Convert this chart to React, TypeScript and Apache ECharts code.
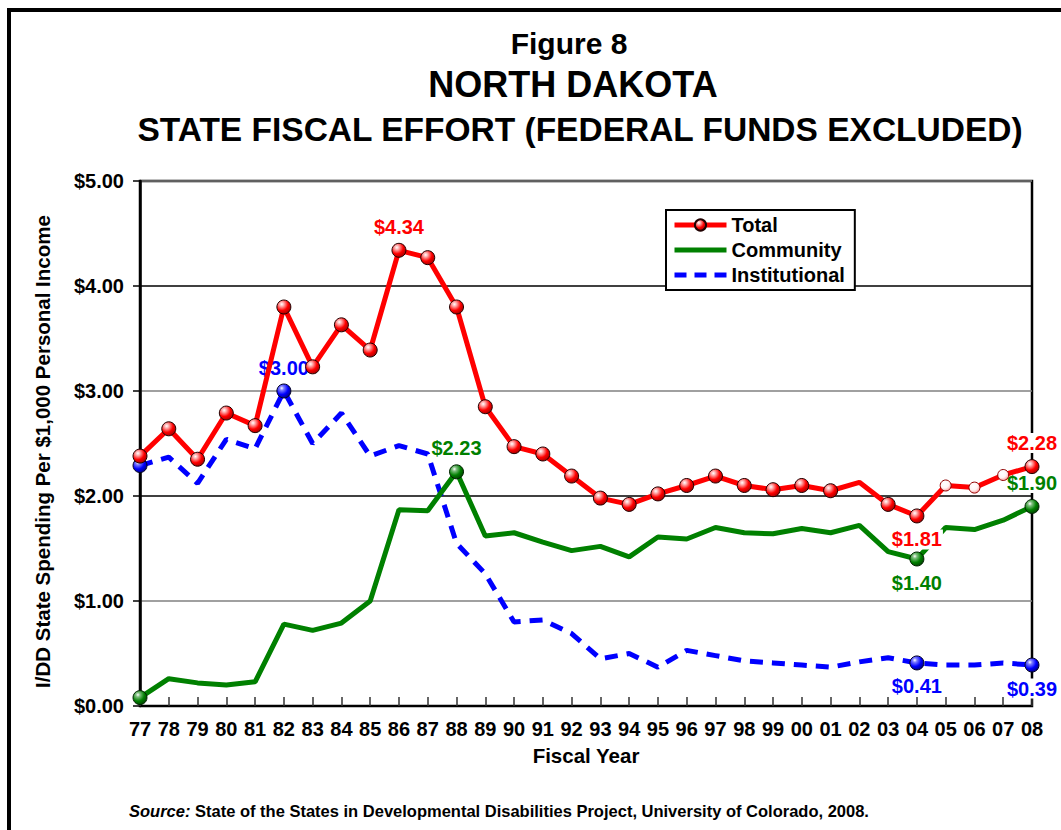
import React, { useEffect, useRef } from "react";
import * as echarts from "echarts";

const years = ["77","78","79","80","81","82","83","84","85","86","87","88","89","90","91","92","93","94","95","96","97","98","99","00","01","02","03","04","05","06","07","08"];

const total = [2.38, 2.64, 2.35, 2.79, 2.67, 3.80, 3.23, 3.63, 3.39, 4.34, 4.27, 3.80, 2.85, 2.47, 2.40, 2.19, 1.98, 1.92, 2.02, 2.10, 2.19, 2.10, 2.06, 2.10, 2.05, 2.13, 1.92, 1.81, 2.10, 2.08, 2.20, 2.28];
const community = [0.08, 0.26, 0.22, 0.20, 0.23, 0.78, 0.72, 0.79, 1.00, 1.87, 1.86, 2.23, 1.62, 1.65, 1.56, 1.48, 1.52, 1.42, 1.61, 1.59, 1.70, 1.65, 1.64, 1.69, 1.65, 1.72, 1.47, 1.40, 1.70, 1.68, 1.77, 1.90];
const institutional = [2.29, 2.37, 2.12, 2.54, 2.45, 3.00, 2.50, 2.79, 2.38, 2.48, 2.40, 1.55, 1.26, 0.80, 0.82, 0.69, 0.45, 0.50, 0.37, 0.53, 0.48, 0.43, 0.41, 0.39, 0.37, 0.42, 0.46, 0.41, 0.39, 0.39, 0.41, 0.39];

const yTicks = [0, 1, 2, 3, 4, 5];

// annotated points: [year, label position]
const totalLabels: [string, string][] = [["86", "top"], ["04", "bottom"], ["08", "top"]];
const communityLabels: [string, string][] = [["88", "top"], ["04", "bottom"], ["08", "top"]];
const institutionalLabels: [string, string][] = [["82", "top"], ["04", "bottom"], ["08", "bottom"]];
const communityMarkers = ["77", "88", "04", "08"];
const institutionalMarkers = ["77", "82", "04", "08"];
const totalNoMarker = ["02"];
const totalSmallMarker = ["05", "06", "07"];

const FONT = 'Arial, "Liberation Sans", sans-serif';

// legend icons (tiny corner dots fix the 52x14 bounding box)
const BOX = "M0,0h0.01v0.01h-0.01z M52,14h-0.01v-0.01h0.01z ";
const solidIcon = "path://" + BOX + "M0,4.5h52v5h-52z";
const dashIcon = "path://" + BOX + "M0,4.5h12v5h-12z M20,4.5h12v5h-12z M40,4.5h12v5h-12z";

function sphere(light: string, mid: string, dark: string) {
  return {
    type: "radial", x: 0.35, y: 0.3, r: 0.75,
    colorStops: [
      { offset: 0, color: "#ffffff" },
      { offset: 0.2, color: light },
      { offset: 0.6, color: mid },
      { offset: 1, color: dark },
    ],
  };
}

const redSphere = sphere("#ffb0b0", "#ff0000", "#a00000");
const greenSphere = sphere("#80c080", "#008000", "#004000");
const blueSphere = sphere("#8080ff", "#0000ff", "#000080");
const whiteSphere = {
  type: "radial", x: 0.4, y: 0.35, r: 0.7,
  colorStops: [
    { offset: 0, color: "#ffffff" },
    { offset: 0.55, color: "#fff4f4" },
    { offset: 1, color: "#ff9090" },
  ],
};

const fmt = (v: number) => "$" + v.toFixed(2);

function makeLabel(color: string, position: string) {
  return {
    show: true,
    position,
    distance: 6,
    color,
    fontSize: 20,
    fontWeight: "bold",
    fontFamily: FONT,
    backgroundColor: "#ffffff",
    padding: [0, 1],
    formatter: (p: any) => fmt(p.value),
  };
}

export default function App() {
  const ref = useRef<HTMLDivElement>(null);

  useEffect(() => {
    if (!ref.current) return;
    const chart = echarts.init(ref.current, null, { renderer: "svg" });

    const totalData = total.map((v, i) => {
      const y = years[i];
      const item: any = { value: v };
      if (totalNoMarker.includes(y)) item.symbol = "none";
      if (totalSmallMarker.includes(y)) {
        item.symbolSize = 11;
        item.itemStyle = { color: whiteSphere, borderColor: "#900000", borderWidth: 1 };
      }
      const lab = totalLabels.find((l) => l[0] === y);
      if (lab) item.label = makeLabel("#ff0000", lab[1]);
      return item;
    });

    const communityData = community.map((v, i) => {
      const y = years[i];
      const item: any = { value: v };
      if (communityMarkers.includes(y)) {
        item.symbol = "circle";
        item.symbolSize = 14;
        item.itemStyle = { color: greenSphere, borderColor: "#002000", borderWidth: 1 };
      }
      const lab = communityLabels.find((l) => l[0] === y);
      if (lab) item.label = makeLabel("#008000", lab[1]);
      return item;
    });

    const institutionalData = institutional.map((v, i) => {
      const y = years[i];
      const item: any = { value: v };
      if (institutionalMarkers.includes(y)) {
        item.symbol = "circle";
        item.symbolSize = 14;
        item.itemStyle = { color: blueSphere, borderColor: "#000020", borderWidth: 1 };
      }
      const lab = institutionalLabels.find((l) => l[0] === y);
      if (lab) {
        item.label = makeLabel("#0000ff", lab[1]);
        if (y === "82") item.label.backgroundColor = "transparent";
      }
      return item;
    });

    const option: any = {
      animation: false,
      backgroundColor: "#ffffff",
      textStyle: { fontFamily: FONT, fontWeight: "bold" },
      grid: {
        left: 140, right: 29, top: 181, bottom: 124,
        show: true, borderColor: "#000", borderWidth: 2.5,
      },
      legend: {
        data: [
          { name: "Total" },
          { name: "Community", icon: solidIcon, itemStyle: { color: "#008000", borderWidth: 0 } },
          { name: "Institutional", icon: dashIcon, itemStyle: { color: "#0000ff", borderWidth: 0 } },
        ],
        orient: "vertical",
        left: 666, top: 210,
        itemWidth: 52, itemHeight: 14, itemGap: 5,
        padding: [5, 10, 5, 6],
        borderColor: "#000", borderWidth: 2,
        backgroundColor: "#ffffff",
        lineStyle: { width: 5 },
        z: 10,
        textStyle: { fontSize: 20, fontWeight: "bold", color: "#000", fontFamily: FONT },
      },
      xAxis: {
        type: "category",
        data: years,
        boundaryGap: false,
        axisLine: { lineStyle: { color: "#000", width: 2 } },
        axisTick: { show: true, inside: true, length: 9, interval: 0, lineStyle: { color: "#333", width: 1.5 } },
        axisLabel: { interval: 0, color: "#000", fontSize: 20, fontWeight: "bold", fontFamily: FONT, margin: 13 },
        splitLine: { show: false },
        name: "Fiscal Year",
        nameLocation: "middle",
        nameGap: 39,
        nameTextStyle: { color: "#000", fontSize: 20.5, fontWeight: "bold", fontFamily: FONT },
      },
      yAxis: {
        type: "value",
        min: yTicks[0], max: yTicks[yTicks.length - 1], interval: 1,
        axisLine: { show: true, lineStyle: { color: "#000", width: 2.5 } },
        axisTick: { show: true, length: 7, lineStyle: { color: "#000", width: 1.5 } },
        axisLabel: { color: "#000", fontSize: 20, fontWeight: "bold", fontFamily: FONT, margin: 16, formatter: (v: number) => fmt(v) },
        splitLine: { show: true, lineStyle: { color: ["#000", "#808080"], width: 1.5 } },
        name: "I/DD State Spending Per $1,000 Personal Income",
        nameLocation: "middle",
        nameRotate: 90,
        nameGap: 87,
        nameTextStyle: { color: "#000", fontSize: 20.5, fontWeight: "bold", fontFamily: FONT, padding: [0, 16, 0, 0] },
      },
      series: [
        {
          name: "Institutional",
          type: "line",
          z: 2,
          data: institutionalData,
          symbol: "none",
          lineStyle: { color: "#0000ff", width: 5, type: [13, 9] },
          itemStyle: { color: "#0000ff" },
          label: { show: false },
        },
        {
          name: "Community",
          type: "line",
          z: 3,
          data: communityData,
          symbol: "none",
          lineStyle: { color: "#008000", width: 5 },
          itemStyle: { color: "#008000" },
          label: { show: false },
        },
        {
          name: "Total",
          type: "line",
          z: 4,
          data: totalData,
          symbol: "circle",
          symbolSize: 14,
          lineStyle: { color: "#ff0000", width: 5 },
          itemStyle: { color: redSphere, borderColor: "#200000", borderWidth: 1 },
          label: { show: false },
        },
      ],
      graphic: [
        {
          type: "rect", silent: true, z: 0,
          shape: { x: 9, y: 10, width: 1200, height: 1000 },
          style: { fill: "none", stroke: "#000", lineWidth: 4 },
        },
        {
          type: "text", x: 569, y: 43,
          style: { text: "Figure 8", fontSize: 30, fontWeight: "bold", fontFamily: FONT, fill: "#000", align: "center", verticalAlign: "middle" },
        },
        {
          type: "text", x: 573, y: 84,
          style: { text: "NORTH DAKOTA", fontSize: 36, fontWeight: "bold", fontFamily: FONT, fill: "#000", align: "center", verticalAlign: "middle" },
        },
        {
          type: "text", x: 580, y: 129,
          style: { text: "STATE FISCAL EFFORT (FEDERAL FUNDS EXCLUDED)", fontSize: 33.5, fontWeight: "bold", fontFamily: FONT, fill: "#000", align: "center", verticalAlign: "middle" },
        },
        {
          type: "text", x: 129, y: 811,
          style: {
            text: "{i|Source:} State of the States in Developmental Disabilities Project, University of Colorado, 2008.",
            fontSize: 16.5, fontWeight: "bold", fontFamily: FONT, fill: "#000", align: "left", verticalAlign: "middle",
            rich: { i: { fontStyle: "italic", fontWeight: "bold", fontSize: 16.5, fontFamily: FONT, fill: "#000" } },
          },
        },
      ],
    };

    chart.setOption(option);
    return () => chart.dispose();
  }, []);

  return <div ref={ref} style={{ position: "absolute", left: 0, top: 0, width: 1061, height: 830 }} />;
}
